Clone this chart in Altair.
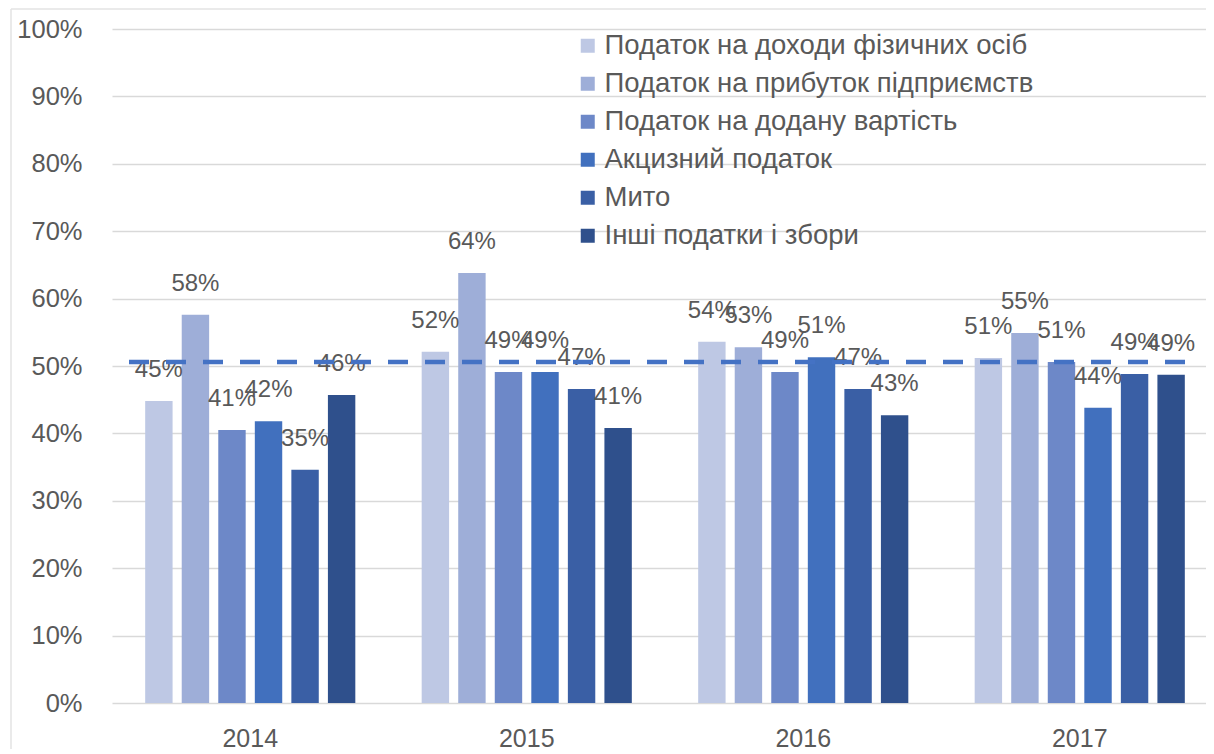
import altair as alt
import pandas as pd

years = ["2014", "2015", "2016", "2017"]
series = [
    "Податок на доходи фізичних осіб",
    "Податок на прибуток підприємств",
    "Податок на додану вартість",
    "Акцизний податок",
    "Мито",
    "Інші податки і збори",
]
pdfo = [0.448, 0.521, 0.536, 0.512]
profit = [0.576, 0.638, 0.528, 0.549]
vat = [0.405, 0.491, 0.491, 0.506]
excise = [0.418, 0.491, 0.513, 0.438]
duty = [0.346, 0.466, 0.466, 0.488]
other = [0.457, 0.408, 0.427, 0.487]
average_level = 0.506

colors = ["#BEC8E4", "#9EAED8", "#6D88C8", "#4170BE", "#3A5FA5", "#2F508C"]

rows = []
for s, vals in zip(series, [pdfo, profit, vat, excise, duty, other]):
    for y, v in zip(years, vals):
        rows.append({"year": y, "series": s, "value": v})
df = pd.DataFrame(rows)

FONT = "Liberation Sans"
GREY = "#595959"

W, H = 1094, 674

x_scale = alt.Scale(range=[0, 1106], paddingInner=0.24, paddingOuter=0.12)
x_enc = alt.X(
    "year:N",
    sort=years,
    scale=x_scale,
    axis=alt.Axis(
        title=None, labelAngle=0, domain=False, ticks=False, labelPadding=23,
        labelFontSize=25, labelColor=GREY, labelFont=FONT, grid=False,
    ),
)
xoff = alt.XOffset("series:N", sort=series,
                   scale=alt.Scale(paddingInner=0.25, paddingOuter=0))
y_enc = alt.Y(
    "value:Q",
    scale=alt.Scale(domain=[0, 1], nice=False),
    axis=alt.Axis(
        title=None, format=".0%", values=[i / 10 for i in range(11)],
        domain=False, ticks=False, labelPadding=30, labelFontSize=25.5,
        labelColor=GREY, labelFont=FONT, grid=True, gridColor="#D9D9D9",
        gridWidth=1.5,
    ),
)

bars = alt.Chart(df).mark_bar().encode(
    x=x_enc,
    xOffset=xoff,
    y=y_enc,
    color=alt.Color(
        "series:N", sort=series,
        scale=alt.Scale(domain=series, range=colors),
        legend=alt.Legend(
            title=None, orient="none", legendX=462, legendY=3,
            symbolType="square", symbolSize=196, symbolStrokeWidth=0,
            labelFontSize=27.5, labelColor=GREY, labelFont=FONT,
            labelOffset=3, rowPadding=9, padding=0, labelLimit=700,
        ),
    ),
)

labels = alt.Chart(df).mark_text(
    fontSize=24, color=GREY, font=FONT, baseline="middle", dy=-31
).encode(
    x=alt.X("year:N", sort=years),
    xOffset=alt.XOffset("series:N", sort=series),
    y="value:Q",
    text=alt.Text("value:Q", format=".0%"),
)

avg = alt.Chart(pd.DataFrame({"level": [average_level]})).mark_rule(
    color="#4472C4", strokeWidth=4.5, strokeDash=[20, 17]
).encode(
    y="level:Q",
    x=alt.value(17),
    x2=alt.value(1088),
)

frame_top = alt.Chart(pd.DataFrame({"k": [0]})).mark_rule(
    color="#E3E3E3", strokeWidth=1.5
).encode(x=alt.value(-101), x2=alt.value(W), y=alt.value(-20))
frame_left = alt.Chart(pd.DataFrame({"k": [0]})).mark_rule(
    color="#E3E3E3", strokeWidth=1.5
).encode(x=alt.value(-101), y=alt.value(-20), y2=alt.value(H + 60))

chart = (
    alt.layer(bars, labels, avg, frame_top, frame_left)
    .properties(
        width=W, height=H,
        background="white",
        autosize=alt.AutoSizeParams(type="none"),
        padding={"left": 104, "top": 21, "right": 0, "bottom": 46},
    )
    .configure_view(strokeWidth=0)
)

chart.save("out.html", embed_options={"renderer": "svg", "actions": False})
